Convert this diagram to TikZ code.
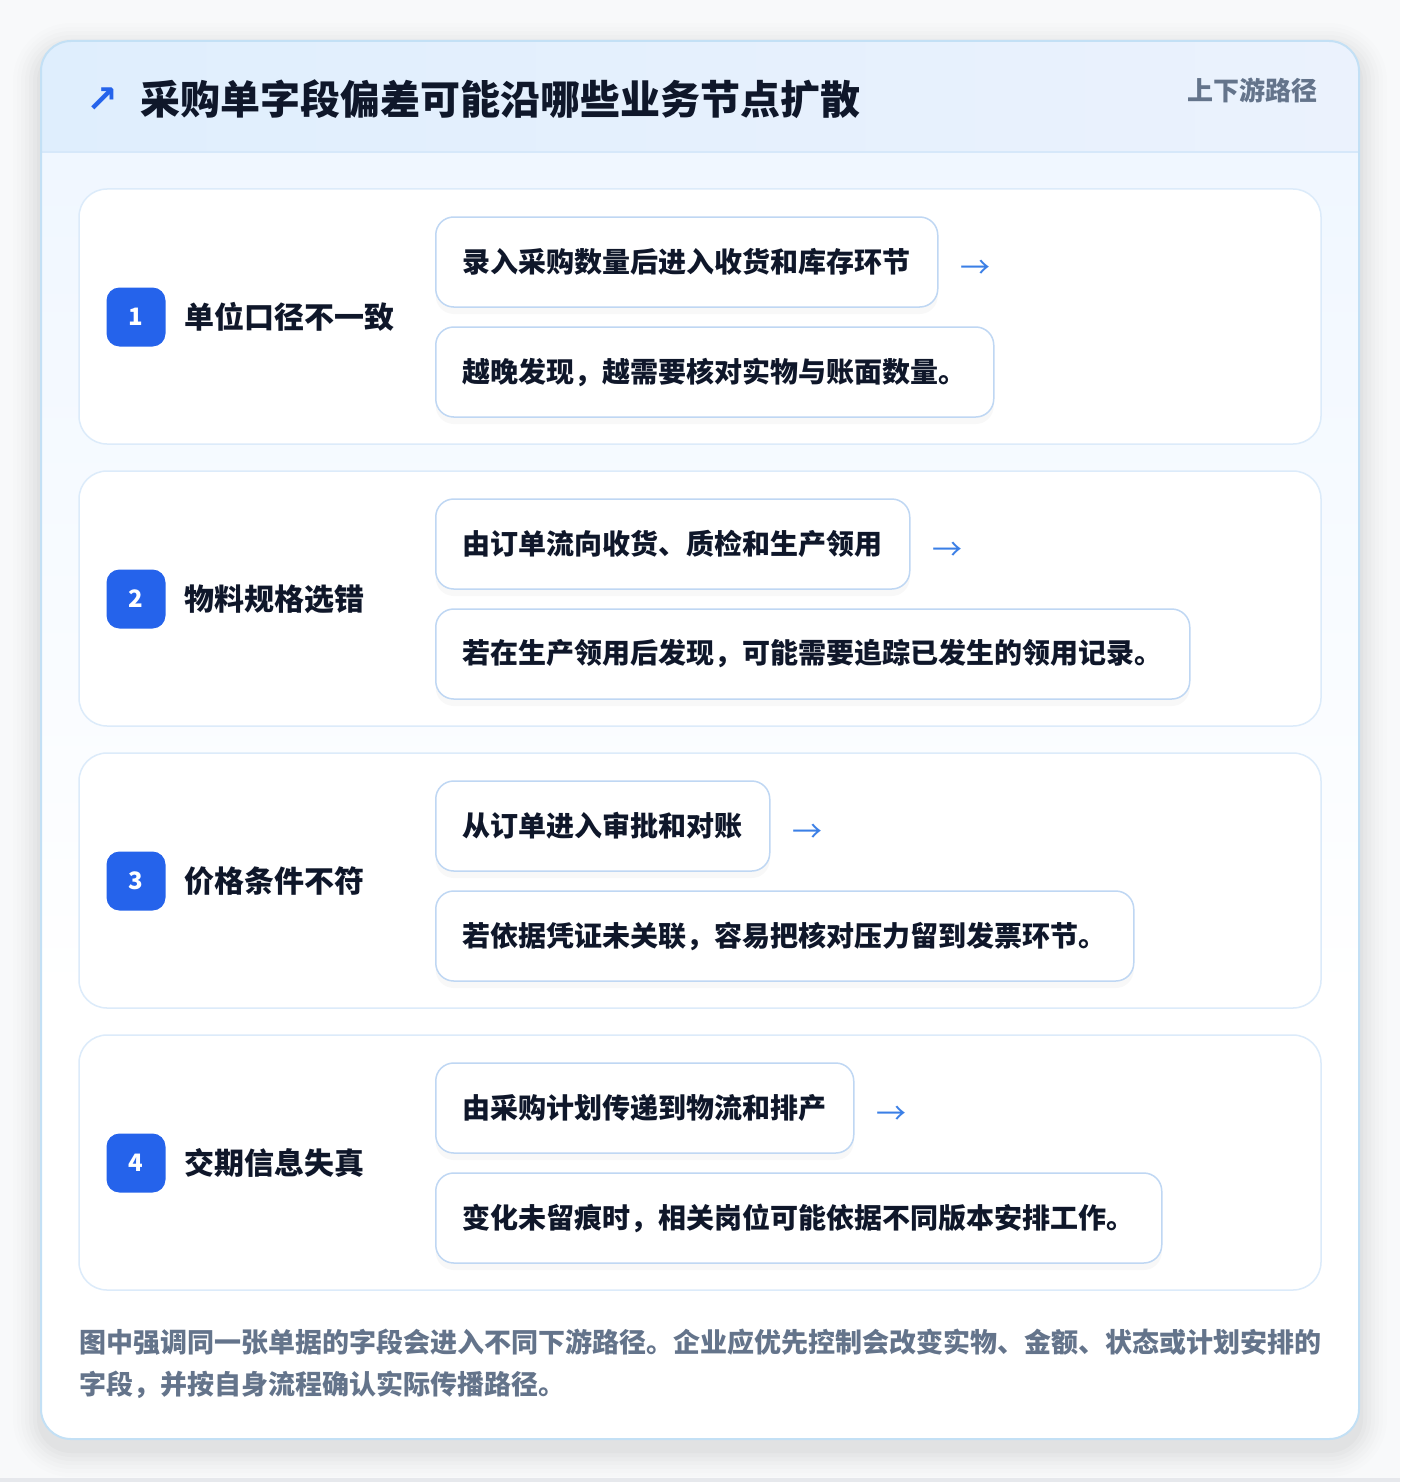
\documentclass[tikz,border=0pt]{standalone}
\usepackage{fontspec}
\setmainfont{Noto Sans CJK SC}
\newfontfamily\symfont{DejaVu Sans}
\usetikzlibrary{shadows,calc}
\definecolor{pagebg}{HTML}{F8F9FA}
\definecolor{bottomline}{HTML}{E6E8EC}
\definecolor{cardline}{HTML}{C3E0F5}
\definecolor{headl}{HTML}{DFEEFD}
\definecolor{headr}{HTML}{EBF2FD}
\definecolor{headline}{HTML}{D6E8FA}
\definecolor{bodytop}{HTML}{F0F7FF}
\definecolor{rowline}{HTML}{DCEBFA}
\definecolor{boxline}{HTML}{BFD7F3}
\definecolor{badgeblue}{HTML}{2563EB}
\definecolor{arrowblue}{HTML}{3B7FE6}
\definecolor{ink}{HTML}{0F172A}
\definecolor{slate}{HTML}{64748B}
\begin{document}
\begin{tikzpicture}[x=1pt,y=-1pt,
  rowbox/.style={draw=rowline, line width=1.5pt, fill=white, rounded corners=28pt},
  badge/.style={fill=badgeblue, rounded corners=13pt, minimum width=59pt, minimum height=59pt, inner sep=0pt, text=white, font=\fontsize{24}{24}\selectfont\bfseries},
  rowlabel/.style={anchor=west, inner sep=0pt, text=ink, font=\fontsize{30}{36}\selectfont\bfseries},
  pathbox/.style={anchor=west, draw=boxline, line width=1.5pt, fill=white, rounded corners=18pt, minimum height=90pt, inner xsep=27pt, inner ysep=0pt, text=ink, font=\fontsize{28}{34}\selectfont\bfseries, drop shadow={opacity=0.05, shadow xshift=0pt, shadow yshift=-7pt}},
  flowarrow/.style={anchor=west, inner sep=0pt, text=arrowblue, font=\fontsize{30}{30}\selectfont}
]
\useasboundingbox (0,0) rectangle (1400,1482);
\fill[pagebg] (0,0) rectangle (1400,1482);
\fill[bottomline] (0,1478) rectangle (1400,1482);
% card shadow
\foreach \e/\o in {28/0.006,24/0.008,20/0.01,16/0.012,12/0.014,8/0.016,4/0.018}{
  \fill[black, opacity=\o, rounded corners=30pt+\e] (41-\e,51-\e) rectangle (1359+\e,1449+\e);
}
% card
\path[fill=white, rounded corners=30pt] (41,41) rectangle (1359,1439);
\begin{scope}
  \clip[rounded corners=30pt] (41,41) rectangle (1359,1439);
  \shade[top color=bodytop, bottom color=white] (41,152) rectangle (1359,1000);
  \fill[white] (41,999) rectangle (1359,1440);
  \shade[left color=headl, right color=headr] (41,41) rectangle (1359,152);
  \draw[headline, line width=1.5pt] (41,152) -- (1359,152);
\end{scope}
\draw[cardline, line width=2pt, rounded corners=30pt] (41,41) rectangle (1359,1439);
% header
\node[anchor=center, inner sep=0pt, text=badgeblue, font=\symfont\fontsize{38}{38}\selectfont\bfseries] (icon) at (102,100) {↗};
\node[anchor=west, inner sep=0pt, text=ink, font=\fontsize{40}{44}\selectfont\bfseries] (title) at (140,99) {采购单字段偏差可能沿哪些业务节点扩散};
\node[anchor=east, inner sep=0pt, text=slate, font=\fontsize{26}{30}\selectfont\bfseries] (tag) at (1318,90) {上下游路径};
% rows
\foreach \i/\yy/\lab/\ta/\tb in {
  1/189/单位口径不一致/录入采购数量后进入收货和库存环节/越晚发现，越需要核对实物与账面数量。,
  2/471/物料规格选错/由订单流向收货、质检和生产领用/若在生产领用后发现，可能需要追踪已发生的领用记录。,
  3/753/价格条件不符/从订单进入审批和对账/若依据凭证未关联，容易把核对压力留到发票环节。,
  4/1035/交期信息失真/由采购计划传递到物流和排产/变化未留痕时，相关岗位可能依据不同版本安排工作。}{
  \draw[rowbox] (79,\yy) rectangle (1321,\yy+255);
  \node[badge] (b\i) at (136,\yy+128) {\i};
  \node[rowlabel] (l\i) at (184,\yy+128) {\lab};
  \node[pathbox] (p\i) at (435,\yy+73) {\ta};
  \node[pathbox] (q\i) at (435,\yy+183) {\tb};
  \node[flowarrow] (a\i) at ($(p\i.east)+(22,7)$) {→};
}
% footer
\node[anchor=west, inner sep=0pt, text=slate, font=\fontsize{27}{42}\selectfont\bfseries, align=left] (note) at (79,1364) {图中强调同一张单据的字段会进入不同下游路径。企业应优先控制会改变实物、金额、状态或计划安排的\\字段，并按自身流程确认实际传播路径。};
\end{tikzpicture}
\end{document}
